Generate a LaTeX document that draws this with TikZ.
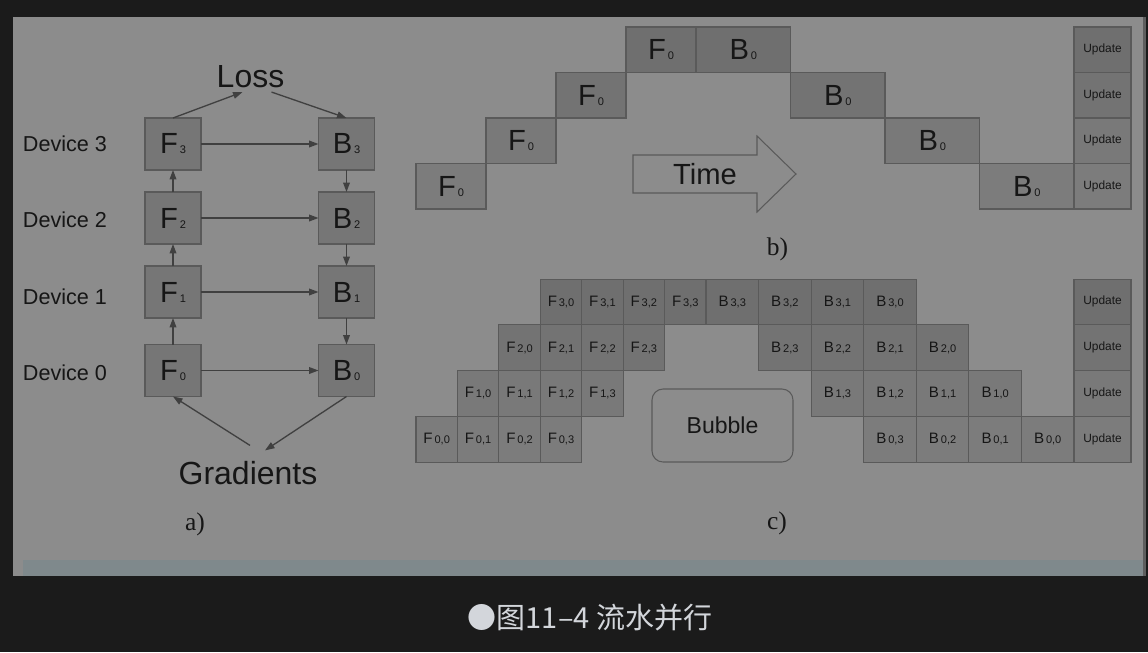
\documentclass[tikz,border=0pt]{standalone}
\usepackage{fontspec}
\setmainfont{Liberation Sans}
\newfontfamily\serif{Liberation Serif}
\newfontfamily\cjk{Noto Sans CJK SC}
\usepackage{tikz}
\usetikzlibrary{arrows.meta, positioning, calc}

\definecolor{darkbg}{HTML}{1B1B1B}
\definecolor{panelgray}{HTML}{8C8C8C}
\definecolor{stripblue}{HTML}{7F898C}
\definecolor{edgeline}{HTML}{5E5E5E}
\definecolor{cellmid}{HTML}{767676}
\definecolor{rowthree}{HTML}{6F6F6F}
\definecolor{rowtwo}{HTML}{737373}
\definecolor{rowone}{HTML}{797979}
\definecolor{rowzero}{HTML}{7C7C7C}
\definecolor{edgegray}{HTML}{5A5A5A}
\definecolor{inkgray}{HTML}{161616}
\definecolor{arrowgray}{HTML}{404040}
\definecolor{captiongray}{HTML}{D3D6DB}

\newcommand{\fs}[1]{\fontsize{#1}{#1}\selectfont}
\newcommand{\ix}[1]{{\fontsize{6.3}{7}\selectfont\,#1}}

\tikzset{
  box/.style={draw=edgegray, line width=0.6pt, fill=cellmid, text=inkgray, inner sep=0pt, outer sep=0pt},
  abox/.style={box, minimum width=1.12cm, minimum height=1.04cm, font=\fs{16.6}},
  bcell/.style={box, minimum height=0.91cm, font=\fs{16.6}},
  ccell/.style={box, minimum height=0.915cm, font=\fs{8.6}},
  upd/.style={box, minimum width=1.14cm, font=\fs{6.8}},
  link/.style={-{Triangle[length=1.9mm, width=1.35mm]}, line width=0.75pt, draw=arrowgray},
  tag/.style={font=\serif\fs{14.5}, text=inkgray},
}

\begin{document}
\begin{tikzpicture}[x=0.02cm, y=-0.02cm]

\useasboundingbox (0,0) rectangle (1148,652);
\fill[darkbg] (0,0) rectangle (1148,652);
\fill[panelgray] (13,17) rectangle (1143,576);
\fill[stripblue] (23,560) rectangle (1143,576);
\fill[edgeline] (1143,17) rectangle (1146,576);

% =============== a) ===============
\foreach \k/\y in {0/370.5,1/292,2/218,3/144}{
  \node[abox] (f\k) at (173,\y) {F\ix{\k}};
  \node[abox] (b\k) at (346.5,\y) {B\ix{\k}};
}
\foreach \k/\y in {0/373,1/296.5,2/220,3/144}
  \node[font=\fs{12.3}, text=inkgray] (dev\k) at (65,\y) {Device \k};
\foreach \k in {0,...,3} \draw[link] (f\k) -- (b\k);
\foreach \k/\j in {0/1,1/2,2/3}{
  \draw[link] (f\k) -- (f\j);
  \draw[link] (b\j) -- (b\k);
}
\node[font=\fs{18.2}, text=inkgray, inner sep=2.3pt] (loss) at (250.5,76.5) {Loss};
\draw[link] (f3.north) -- ([xshift=-0.16cm]loss.south);
\draw[link] ([xshift=0.42cm]loss.south) -- (b3.north);
\node[font=\fs{18.2}, text=inkgray, inner sep=2pt] (grad) at (248,473.5) {Gradients};
\draw[link] ([xshift=0.04cm, yshift=0.25cm]grad.north) -- (f0.south);
\draw[link] (b0.south) -- ([xshift=0.34cm, yshift=0.15cm]grad.north);
\node[tag] (taga) at (195,524) {a)};

% =============== b) ===============
\foreach \k/\tone in {0/rowzero,1/rowone,2/rowtwo,3/rowthree}{
  \node[bcell, fill=\tone, minimum width=1.4cm] (bf\k) at ({451+70*\k},{49.75+(3-\k)*45.5}) {F\ix{0}};
  \node[bcell, fill=\tone, minimum width=1.89cm] (bb\k) at ({743.25+94.5*(3-\k)},{49.75+(3-\k)*45.5}) {B\ix{0}};
  \node[upd, fill=\tone, minimum height=0.91cm] (bu\k) at (1102.5,{49.75+(3-\k)*45.5}) {Update};
}
% time arrow
\draw[edgegray, line width=0.6pt] (633,155) -- (757,155) -- (757,136) -- (796,174)
  -- (757,212) -- (757,193) -- (633,193) -- cycle;
\node[font=\fs{16.6}, text=inkgray] (time) at (705,174) {Time};
\node[tag] (tagb) at (777.5,249) {b)};

% =============== c) ===============
\foreach \k/\tone in {0/rowzero,1/rowone,2/rowtwo,3/rowthree}{
  \foreach \j in {0,...,3}{
    \node[ccell, fill=\tone, minimum width=0.828cm] (cf\k\j) at ({436.7+(\k+\j)*41.43},{301.9+(3-\k)*45.75}) {F\ix{\k,\j}};
    \node[ccell, fill=\tone, minimum width=1.051cm] (cb\k\j) at ({732.3+(6-\k-\j)*52.57},{301.9+(3-\k)*45.75}) {B\ix{\k,\j}};
  }
  \node[upd, fill=\tone, minimum height=0.915cm] (cu\k) at (1102.5,{301.9+(3-\k)*45.75}) {Update};
}
\node[draw=edgegray, line width=0.6pt, rounded corners=0.22cm, minimum width=2.82cm,
  minimum height=1.46cm, font=\fs{13.1}, text=inkgray] (bubble) at (722.5,425.5) {Bubble};
\node[tag] (tagc) at (777,523) {c)};

% caption
\node[font=\cjk\fs{16.5}, text=captiongray] (caption) at (590,618) {●图11–4 流水并行};

\end{tikzpicture}
\end{document}
